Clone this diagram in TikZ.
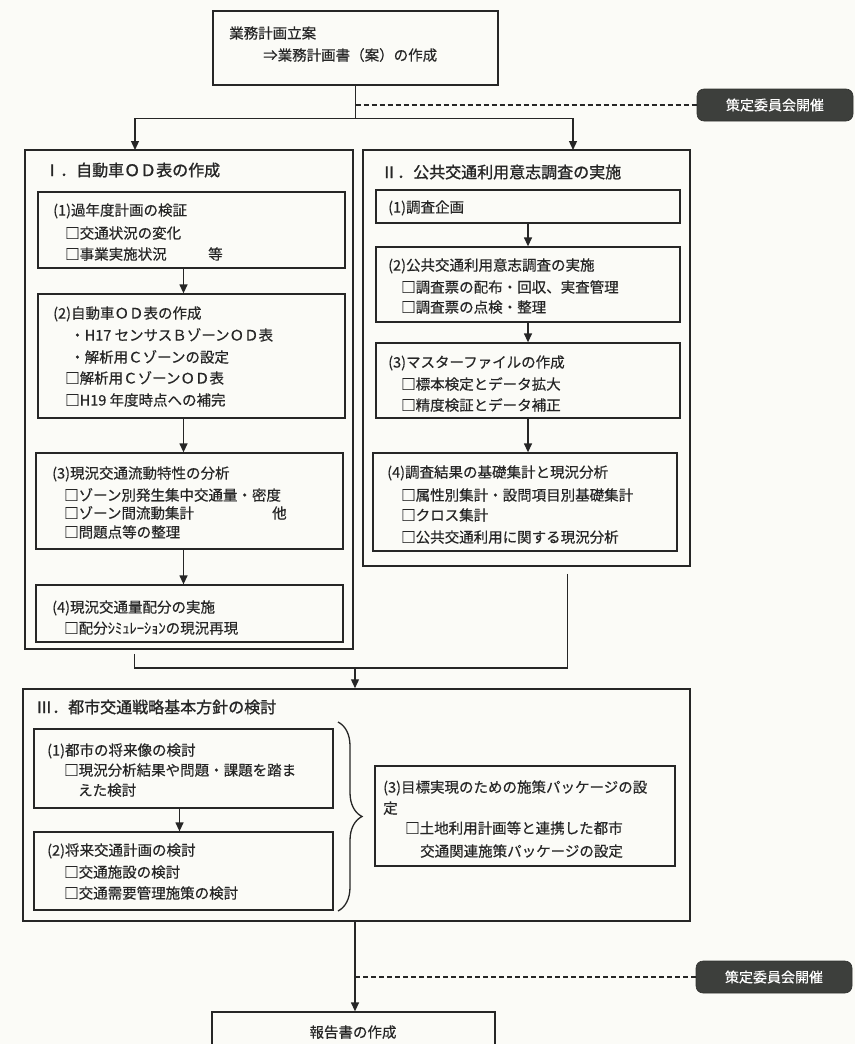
\documentclass[tikz,border=0pt]{standalone}
\usepackage{fontspec}
\setmainfont{Noto Sans CJK JP}[FakeBold=0.4]
\newfontfamily\jpbold{Noto Sans CJK JP}[FakeBold=1.2]
\usetikzlibrary{arrows.meta,fit,decorations.pathreplacing,calc}
\definecolor{ink}{HTML}{262626}
\definecolor{paper}{HTML}{FBFBF7}
\definecolor{badgefill}{HTML}{3D3F3C}
\begin{document}
\begin{tikzpicture}[x=1pt,y=-1pt,
  box/.style={draw=ink, line width=1.3pt, inner sep=0pt},
  outer/.style={draw=ink, line width=1.5pt, inner sep=0pt},
  txt/.style={anchor=west, inner sep=0pt, text=ink, font=\fontsize{14.5}{17}\selectfont, text height=12.8pt, text depth=1.7pt},
  ttl/.style={anchor=west, inner sep=0pt, text=ink, font=\fontsize{16}{19}\selectfont\jpbold, text height=14.1pt, text depth=1.9pt},
  conn/.style={draw=ink, line width=1.3pt},
  arr/.style={conn, -{Triangle[length=9pt,width=8pt]}},
  dashline/.style={draw=ink, line width=1.1pt, dash pattern=on 5pt off 3pt},
  badge/.style={fill=badgefill, draw=badgefill!80!black, line width=0.6pt, rounded corners=7pt, minimum width=156pt, minimum height=32pt, text=white, font=\fontsize{14}{16}\selectfont, inner sep=0pt}
]
\useasboundingbox (0,0) rectangle (855,1044);
\clip (0,0) rectangle (855,1044);
\fill[paper] (0,0) rectangle (855,1044);

% top
\node[box, fit={(213,11) (498,85)}] (plan) {};
\node[txt] (planA) at (229,33) {業務計画立案};
\node[txt] (planB) at (263,55) {⇒業務計画書（案）の作成};
\node[badge] (com1) at (775,105) {策定委員会開催};
\coordinate (jT) at ($(plan.south)+(0,33)$);
\draw[conn] (plan.south) -- (jT);
\draw[dashline] (com1.west -| plan.south) -- (com1.west);
\coordinate (aI) at (135,150);
\coordinate (aII) at (573,150);
\draw[arr] (jT) -| (aI);
\draw[arr] (jT) -| (aII);

% section I
\node[outer, fit={(25,150) (353,649)}] (secI) {};
\node[ttl] (tI) at (44,170) {Ⅰ．自動車ＯＤ表の作成};
\node[box, fit={(38,192) (345,268)}] (I1) {};
\node[box, fit={(38,294) (345,418)}] (I2) {};
\node[box, fit={(36,453) (343,549)}] (I3) {};
\node[box, fit={(36,585) (343,642)}] (I4) {};
\draw[arr] ($(I1.south)+(-8,0)$) -- ($(I2.north)+(-8,0)$);
\draw[arr] ($(I2.south)+(-8,0)$) -- ($(I3.north)+(-6,0)$);
\draw[arr] ($(I3.south)+(-6,0)$) -- ($(I4.north)+(-6,0)$);

\node[txt] (I1a) at (53,210) {(1)過年度計画の検証};
\node[txt] (I1b) at (65,233) {□交通状況の変化};
\node[txt] (I1c) at (65,254) {□事業実施状況};
\node[txt] (I1d) at (208,254) {等};

\node[txt] (I2a) at (53,313) {(2)自動車ＯＤ表の作成};
\node[txt] (I2b) at (70,335) {・H17 センサスＢゾーンＯＤ表};
\node[txt] (I2c) at (70,357) {・解析用Ｃゾーンの設定};
\node[txt] (I2d) at (65,378) {□解析用ＣゾーンＯＤ表};
\node[txt] (I2e) at (65,400) {□H19 年度時点への補完};

\node[txt] (I3a) at (52,473) {(3)現況交通流動特性の分析};
\node[txt] (I3b) at (64,495) {□ゾーン別発生集中交通量・密度};
\node[txt] (I3c) at (64,513) {□ゾーン間流動集計};
\node[txt] (I3d) at (272,513) {他};
\node[txt] (I3e) at (64,532) {□問題点等の整理};

\node[txt] (I4a) at (52,607) {(4)現況交通量配分の実施};
\node[txt] (I4b) at (64,628) {□配分ｼﾐｭﾚｰｼｮﾝの現況再現};

% section II
\node[outer, fit={(363,150) (690,566)}] (secII) {};
\node[ttl] (tII) at (381,172) {Ⅱ．公共交通利用意志調査の実施};
\node[box, fit={(376,190) (680,223)}] (II1) {};
\node[box, fit={(376,247) (680,322)}] (II2) {};
\node[box, fit={(376,343) (680,418)}] (II3) {};
\node[box, fit={(373,453) (677,551)}] (II4) {};
\draw[arr] (II1.south) -- (II2.north);
\draw[arr] (II2.south) -- (II3.north);
\draw[arr] (II3.south) -- (II3.south |- II4.north);

\node[txt] (II1a) at (388,207) {(1)調査企画};
\node[txt] (II2a) at (388,265) {(2)公共交通利用意志調査の実施};
\node[txt] (II2b) at (401,287) {□調査票の配布・回収、実査管理};
\node[txt] (II2c) at (401,307) {□調査票の点検・整理};
\node[txt] (II3a) at (388,362) {(3)マスターファイルの作成};
\node[txt] (II3b) at (401,384) {□標本検定とデータ拡大};
\node[txt] (II3c) at (401,405) {□精度検証とデータ補正};
\node[txt] (II4a) at (387,472) {(4)調査結果の基礎集計と現況分析};
\node[txt] (II4b) at (401,495) {□属性別集計・設問項目別基礎集計};
\node[txt] (II4c) at (401,515) {□クロス集計};
\node[txt] (II4d) at (401,537) {□公共交通利用に関する現況分析};

% merge
\coordinate (jM) at (355,668);
\draw[conn] ($(secI.south west)+(110,4)$) |- (jM);
\draw[conn] ($(secII.south east)+(-123,7)$) |- (jM);

% section III
\node[outer, fit={(23,689) (690,921)}] (secIII) {};
\draw[arr] (jM) -- (jM |- secIII.north);
\node[ttl] (tIII) at (36,707) {Ⅲ．都市交通戦略基本方針の検討};
\node[box, fit={(34,729) (333,808)}] (III1) {};
\node[box, fit={(34,832) (333,910)}] (III2) {};
\node[box, fit={(375,766) (675,866)}] (III3) {};
\draw[arr] ($(III1.south)+(-4,0)$) -- ($(III2.north)+(-4,0)$);
\draw[draw=ink, line width=1.3pt, decorate, decoration={brace, amplitude=24pt}] (338,722) -- (338,911);

\node[txt] (III1a) at (47,750) {(1)都市の将来像の検討};
\node[txt] (III1b) at (64,770) {□現況分析結果や問題・課題を踏ま};
\node[txt] (III1c) at (78,790) {えた検討};
\node[txt] (III2a) at (47,850) {(2)将来交通計画の検討};
\node[txt] (III2b) at (64,872) {□交通施設の検討};
\node[txt] (III2c) at (64,893) {□交通需要管理施策の検討};
\node[txt] (III3a) at (383,787) {(3)目標実現のための施策パッケージの設};
\node[txt] (III3b) at (383,808) {定};
\node[txt] (III3c) at (405,828) {□土地利用計画等と連携した都市};
\node[txt] (III3d) at (420,851) {交通関連施策パッケージの設定};

% bottom
\node[badge] (com2) at (774,977) {策定委員会開催};
\node[box, fit={(212,1012) (495,1070)}] (report) {};
\node[txt, anchor=center] (reportT) at (353,1032) {報告書の作成};
\draw[arr] (secIII.south -| jM) -- (report.north -| jM);
\draw[dashline] (com2.west -| jM) -- (com2.west);
\end{tikzpicture}
\end{document}
